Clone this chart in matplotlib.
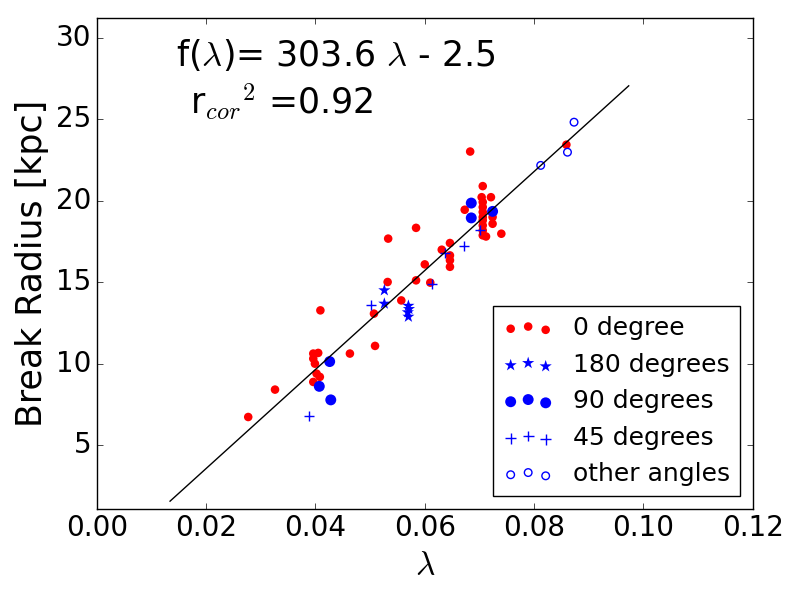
"""
Break radius vs lambda, coloured by viewing angle
"""

import numpy as np
import matplotlib
matplotlib.use("Agg")
import matplotlib.pyplot as plt

plt.style.use("classic")

# 0 degree
lam_0 = [0.0277, 0.0326, 0.0396, 0.0408, 0.0402, 0.0399, 0.0396, 0.0396, 0.0405,
         0.0463, 0.0409, 0.0509, 0.0507, 0.0557, 0.0532, 0.0533, 0.0584, 0.0584,
         0.0610, 0.0600, 0.0631, 0.0646, 0.0646, 0.0646, 0.0646, 0.0673, 0.0683,
         0.0706, 0.0704, 0.0721, 0.0706, 0.0706, 0.0706, 0.0706, 0.0706, 0.0706,
         0.0706, 0.0706, 0.0724, 0.0724, 0.0740, 0.0712, 0.0859]
rb_0 = [6.73, 8.41, 8.88, 9.19, 9.39, 10.00, 10.31, 10.62, 10.66,
        10.62, 13.27, 11.09, 13.07, 13.88, 15.01, 17.67, 18.33, 15.11,
        14.97, 16.09, 16.99, 17.40, 16.64, 16.34, 15.94, 19.44, 23.01,
        20.89, 20.21, 20.21, 19.91, 19.60, 19.30, 18.99, 18.79, 18.48,
        18.17, 17.87, 18.99, 18.58, 17.97, 17.80, 23.43]

# 180 degrees
lam_180 = [0.0526, 0.0526, 0.0570, 0.0571, 0.0569, 0.0570]
rb_180 = [14.50, 13.68, 13.55, 13.35, 13.15, 12.88]

# 90 degrees
lam_90 = [0.0426, 0.0407, 0.0428, 0.0685, 0.0685, 0.0724]
rb_90 = [10.13, 8.61, 7.78, 19.85, 18.94, 19.34]

# 45 degrees
lam_45 = [0.0388, 0.0501, 0.0614, 0.0637, 0.0671, 0.0701]
rb_45 = [6.78, 13.62, 14.91, 16.78, 17.19, 18.22]

# other angles
lam_oth = [0.0812, 0.0861, 0.0873]
rb_oth = [22.16, 22.97, 24.81]

# linear fit f(lambda) = a*lambda + b
slope, icept = 303.6, -2.5
fit_range = [0.0134, 0.0973]

fig = plt.figure(figsize=(8, 6), dpi=100, facecolor="white")
ax = fig.add_axes([0.121, 0.152, 0.82, 0.818])

ax.scatter(lam_0, rb_0, s=38, c="r", edgecolors="none", label="0 degree")
ax.scatter(lam_180, rb_180, s=85, c="b", marker="*", edgecolors="none", label="180 degrees")
ax.scatter(lam_90, rb_90, s=62, c="b", edgecolors="none", label="90 degrees")
ax.scatter(lam_45, rb_45, s=60, c="b", marker="+", linewidths=1, label="45 degrees")
ax.scatter(lam_oth, rb_oth, s=30, facecolors="none", edgecolors="b", linewidths=1,
           label="other angles")

xf = np.array(fit_range)
ax.plot(xf, slope * xf + icept, "k-", lw=1)

ax.text(0.0145, 28.24, r"f($\lambda$)= 303.6 $\lambda$ - 2.5", fontsize=25, va="baseline")
ax.text(0.0170, 25.34, r"r$_{cor}$$^2$ =0.92", fontsize=25, va="baseline")

ax.set_xlim(0, 0.12)
ax.set_ylim(1.1, 31.2)
ax.set_xticks([0.0, 0.02, 0.04, 0.06, 0.08, 0.10, 0.12])
ax.set_yticks([5, 10, 15, 20, 25, 30])
ax.xaxis.set_major_formatter(plt.FormatStrFormatter("%.2f"))
ax.tick_params(labelsize=20)

ax.set_xlabel(r"$\lambda$", fontsize=24)
ax.set_ylabel("Break Radius [kpc]", fontsize=25)

ax.legend(loc="lower right", fontsize=18, scatterpoints=3)

fig.savefig("out.png", dpi=100, facecolor="white")
